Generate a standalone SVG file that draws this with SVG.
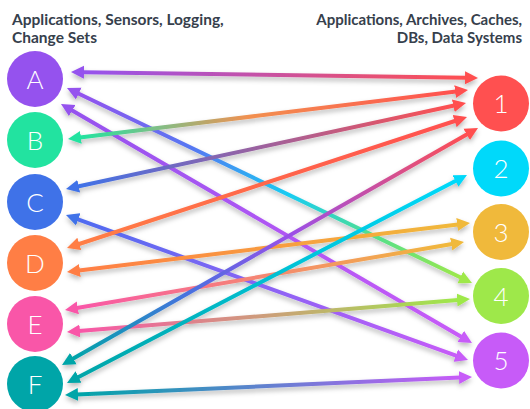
<svg xmlns="http://www.w3.org/2000/svg" width="530" height="409" viewBox="0 0 530 409">
<style>
.hd{font-family:"Lato","Liberation Sans",sans-serif;font-weight:700;font-size:15.5px;fill:#36404c}
.hr{font-size:15px;text-anchor:end}
.lb{font-family:"Lato","Noto Sans","Liberation Sans",sans-serif;font-weight:300;font-size:26px;fill:#ffffff;text-anchor:middle}
.ln{fill:none;stroke-width:4}
</style>
<defs>
<filter id="sh" x="-10%" y="-20%" width="120%" height="140%">
<feDropShadow dx="0" dy="3" stdDeviation="2.5" flood-color="#000" flood-opacity="0.28"/>
</filter>
<marker id="mA" viewBox="-1 -7 14 14" markerWidth="14" markerHeight="14" refX="0" refY="0" orient="auto-start-reverse" markerUnits="userSpaceOnUse"><path d="M-1,-6.5 L12,0 L-1,6.5 Z" fill="#9552EE"/></marker>
<marker id="mB" viewBox="-1 -7 14 14" markerWidth="14" markerHeight="14" refX="0" refY="0" orient="auto-start-reverse" markerUnits="userSpaceOnUse"><path d="M-1,-6.5 L12,0 L-1,6.5 Z" fill="#22E3A0"/></marker>
<marker id="mC" viewBox="-1 -7 14 14" markerWidth="14" markerHeight="14" refX="0" refY="0" orient="auto-start-reverse" markerUnits="userSpaceOnUse"><path d="M-1,-6.5 L12,0 L-1,6.5 Z" fill="#3F72E8"/></marker>
<marker id="mD" viewBox="-1 -7 14 14" markerWidth="14" markerHeight="14" refX="0" refY="0" orient="auto-start-reverse" markerUnits="userSpaceOnUse"><path d="M-1,-6.5 L12,0 L-1,6.5 Z" fill="#FF7E45"/></marker>
<marker id="mE" viewBox="-1 -7 14 14" markerWidth="14" markerHeight="14" refX="0" refY="0" orient="auto-start-reverse" markerUnits="userSpaceOnUse"><path d="M-1,-6.5 L12,0 L-1,6.5 Z" fill="#F956A8"/></marker>
<marker id="mF" viewBox="-1 -7 14 14" markerWidth="14" markerHeight="14" refX="0" refY="0" orient="auto-start-reverse" markerUnits="userSpaceOnUse"><path d="M-1,-6.5 L12,0 L-1,6.5 Z" fill="#00A5A8"/></marker>
<marker id="m1" viewBox="-1 -7 14 14" markerWidth="14" markerHeight="14" refX="0" refY="0" orient="auto-start-reverse" markerUnits="userSpaceOnUse"><path d="M-1,-6.5 L12,0 L-1,6.5 Z" fill="#FF5050"/></marker>
<marker id="m2" viewBox="-1 -7 14 14" markerWidth="14" markerHeight="14" refX="0" refY="0" orient="auto-start-reverse" markerUnits="userSpaceOnUse"><path d="M-1,-6.5 L12,0 L-1,6.5 Z" fill="#00D9FA"/></marker>
<marker id="m3" viewBox="-1 -7 14 14" markerWidth="14" markerHeight="14" refX="0" refY="0" orient="auto-start-reverse" markerUnits="userSpaceOnUse"><path d="M-1,-6.5 L12,0 L-1,6.5 Z" fill="#F0B93B"/></marker>
<marker id="m4" viewBox="-1 -7 14 14" markerWidth="14" markerHeight="14" refX="0" refY="0" orient="auto-start-reverse" markerUnits="userSpaceOnUse"><path d="M-1,-6.5 L12,0 L-1,6.5 Z" fill="#9EE84A"/></marker>
<marker id="m5" viewBox="-1 -7 14 14" markerWidth="14" markerHeight="14" refX="0" refY="0" orient="auto-start-reverse" markerUnits="userSpaceOnUse"><path d="M-1,-6.5 L12,0 L-1,6.5 Z" fill="#C75BF8"/></marker>

<linearGradient id="gA1" gradientUnits="userSpaceOnUse" x1="83" y1="72" x2="466" y2="78"><stop offset="0" stop-color="#9552EE"/><stop offset="1" stop-color="#FF5050"/></linearGradient>
<linearGradient id="gA4" gradientUnits="userSpaceOnUse" x1="78" y1="93" x2="461" y2="278"><stop offset="0" stop-color="#9552EE"/><stop offset="0.3" stop-color="#5578F2"/><stop offset="0.55" stop-color="#18CCF2"/><stop offset="0.78" stop-color="#55E08A"/><stop offset="1" stop-color="#9EE84A"/></linearGradient>
<linearGradient id="gA5" gradientUnits="userSpaceOnUse" x1="71" y1="110" x2="462" y2="337"><stop offset="0" stop-color="#9552EE"/><stop offset="1" stop-color="#C75BF8"/></linearGradient>
<linearGradient id="gB1" gradientUnits="userSpaceOnUse" x1="80" y1="138" x2="456" y2="91"><stop offset="0" stop-color="#22E3A0"/><stop offset="0.2" stop-color="#7CC088"/><stop offset="0.45" stop-color="#F29050"/><stop offset="1" stop-color="#FF5050"/></linearGradient>
<linearGradient id="gC1" gradientUnits="userSpaceOnUse" x1="78" y1="186" x2="454" y2="106"><stop offset="0" stop-color="#3F72E8"/><stop offset="1" stop-color="#FF5050"/></linearGradient>
<linearGradient id="gC5" gradientUnits="userSpaceOnUse" x1="77" y1="219" x2="457" y2="356"><stop offset="0" stop-color="#4F6CF0"/><stop offset="1" stop-color="#C75BF8"/></linearGradient>
<linearGradient id="gD1" gradientUnits="userSpaceOnUse" x1="78" y1="244" x2="456" y2="121"><stop offset="0" stop-color="#FF7E45"/><stop offset="1" stop-color="#FF5050"/></linearGradient>
<linearGradient id="gD3" gradientUnits="userSpaceOnUse" x1="79" y1="271" x2="458" y2="224"><stop offset="0" stop-color="#FF7E45"/><stop offset="1" stop-color="#F0B93B"/></linearGradient>
<linearGradient id="gE3" gradientUnits="userSpaceOnUse" x1="77" y1="308" x2="452" y2="244"><stop offset="0" stop-color="#F956A8"/><stop offset="1" stop-color="#F0B93B"/></linearGradient>
<linearGradient id="gE4" gradientUnits="userSpaceOnUse" x1="79" y1="331" x2="458" y2="300"><stop offset="0" stop-color="#F956A8"/><stop offset="1" stop-color="#9EE84A"/></linearGradient>
<linearGradient id="gF1" gradientUnits="userSpaceOnUse" x1="72" y1="359" x2="468" y2="134"><stop offset="0" stop-color="#00A5A8"/><stop offset="0.3" stop-color="#4A70E0"/><stop offset="0.55" stop-color="#9A50E8"/><stop offset="1" stop-color="#FF5050"/></linearGradient>
<linearGradient id="gF2" gradientUnits="userSpaceOnUse" x1="78" y1="377" x2="456" y2="181"><stop offset="0" stop-color="#00A5A8"/><stop offset="1" stop-color="#00D9FA"/></linearGradient>
<linearGradient id="gF5" gradientUnits="userSpaceOnUse" x1="77" y1="394" x2="460" y2="378"><stop offset="0" stop-color="#00A5A8"/><stop offset="1" stop-color="#C75BF8"/></linearGradient>
</defs>

<rect width="530" height="409" fill="#ffffff"/>

<text class="hd" x="12" y="25">Applications, Sensors, Logging,</text>
<text class="hd" x="12" y="43">Change Sets</text>
<text class="hd hr" x="522" y="25">Applications, Archives, Caches,</text>
<text class="hd hr" x="522" y="43">DBs, Data Systems</text>

<g id="connectors" filter="url(#sh)">
<path class="ln" stroke="url(#gA1)" marker-start="url(#mA)" marker-end="url(#m1)" d="M83,72.18 L466,77.82"/>
<path class="ln" stroke="url(#gA4)" marker-start="url(#mA)" marker-end="url(#m4)" d="M77.81,93.21 L461.19,277.79"/>
<path class="ln" stroke="url(#gA5)" marker-start="url(#mA)" marker-end="url(#m5)" d="M71.37,110.03 L461.63,336.97"/>
<path class="ln" stroke="url(#gB1)" marker-start="url(#mB)" marker-end="url(#m1)" d="M79.91,137.54 L456.09,91.46"/>
<path class="ln" stroke="url(#gC1)" marker-start="url(#mC)" marker-end="url(#m1)" d="M77.73,186.48 L454.27,105.52"/>
<path class="ln" stroke="url(#gC5)" marker-start="url(#mC)" marker-end="url(#m5)" d="M77.29,219.07 L456.71,355.93"/>
<path class="ln" stroke="url(#gD1)" marker-start="url(#mD)" marker-end="url(#m1)" d="M78.4,244.27 L455.6,120.73"/>
<path class="ln" stroke="url(#gD3)" marker-start="url(#mD)" marker-end="url(#m3)" d="M78.91,270.55 L458.09,224.45"/>
<path class="ln" stroke="url(#gE3)" marker-start="url(#mE)" marker-end="url(#m3)" d="M76.83,307.98 L452.17,244.02"/>
<path class="ln" stroke="url(#gE4)" marker-start="url(#mE)" marker-end="url(#m4)" d="M78.96,331.02 L458.04,299.98"/>
<path class="ln" stroke="url(#gF1)" marker-start="url(#mF)" marker-end="url(#m1)" d="M72.43,359.06 L467.57,133.94"/>
<path class="ln" stroke="url(#gF2)" marker-start="url(#mF)" marker-end="url(#m2)" d="M77.65,377.46 L456.35,180.54"/>
<path class="ln" stroke="url(#gF5)" marker-start="url(#mF)" marker-end="url(#m5)" d="M76.99,394.47 L460.01,377.53"/>
</g>

<g id="node-A"><circle cx="35" cy="79" r="28" fill="#9552EE"/><text class="lb" x="35" y="88.5">A</text></g>
<g id="node-B"><circle cx="35" cy="140" r="28" fill="#22E3A0"/><text class="lb" x="35" y="149.5">B</text></g>
<g id="node-C"><circle cx="35" cy="202" r="28" fill="#3F72E8"/><text class="lb" x="35" y="211.5">C</text></g>
<g id="node-D"><circle cx="35" cy="263" r="28" fill="#FF7E45"/><text class="lb" x="35" y="272.5">D</text></g>
<g id="node-E"><circle cx="35" cy="324" r="28" fill="#F956A8"/><text class="lb" x="35" y="333.5">E</text></g>
<g id="node-F"><circle cx="35" cy="384" r="28" fill="#00A5A8"/><text class="lb" x="35" y="393.5">F</text></g>

<g id="node-1"><circle cx="501" cy="103.5" r="28" fill="#FF5050"/><text class="lb" x="501" y="113">1</text></g>
<g id="node-2"><circle cx="501" cy="168.5" r="28" fill="#00D9FA"/><text class="lb" x="501" y="178">2</text></g>
<g id="node-3"><circle cx="501" cy="232" r="28" fill="#F0B93B"/><text class="lb" x="501" y="241.5">3</text></g>
<g id="node-4"><circle cx="501" cy="296" r="28" fill="#9EE84A"/><text class="lb" x="501" y="305.5">4</text></g>
<g id="node-5"><circle cx="501" cy="360.5" r="28" fill="#C75BF8"/><text class="lb" x="501" y="370">5</text></g>
</svg>
